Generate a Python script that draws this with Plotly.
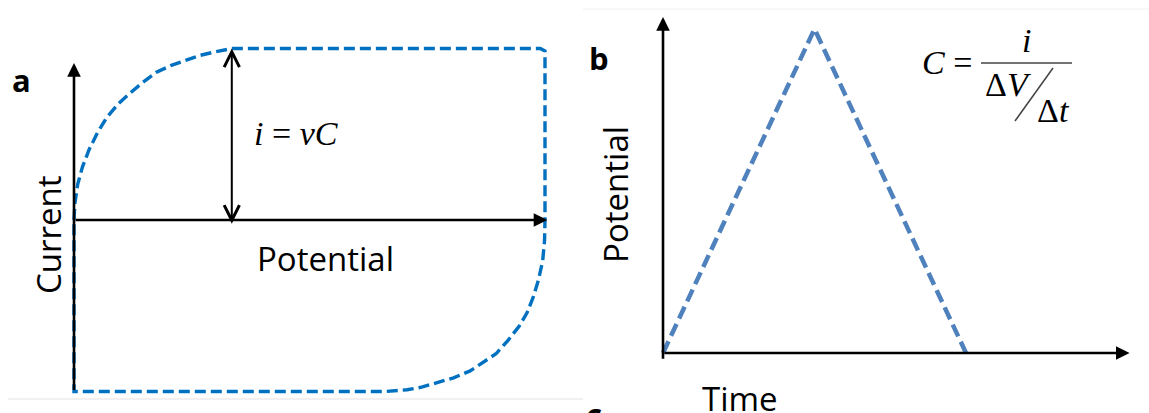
import plotly.graph_objects as go

W, H = 1149, 413

# (a) cyclic voltammogram of an ideal capacitor, normalised units
potential_a = [0.000, 0.002, 0.008, 0.018, 0.032, 0.050, 0.070, 0.095, 0.119, 0.145,
               0.174, 0.205, 0.236, 0.268, 0.299, 0.335, 0.990, 1.000, 1.000, 0.999,
               0.995, 0.986, 0.975, 0.962, 0.945, 0.922, 0.896, 0.870, 0.841, 0.806,
               0.771, 0.738, 0.707, 0.680, 0.660, 0.000, 0.000]
current_a = [0.00, 0.10, 0.21, 0.31, 0.41, 0.51, 0.60, 0.68, 0.74, 0.80,
             0.86, 0.90, 0.93, 0.96, 0.98, 1.00, 1.00, 0.985, 0.00, -0.12,
             -0.24, -0.35, -0.45, -0.54, -0.62, -0.70, -0.78, -0.83, -0.88, -0.92,
             -0.95, -0.975, -0.99, -0.997, -1.00, -1.00, 0.00]
plateau_potential = 0.335   # where the current reaches i = vC
plateau_current = 1.0
axis_a_top = 0.915          # end of the current axis arrow
axis_a_bottom = -1.0
axis_a_right = 1.005        # end of the potential axis arrow

# (b) triangular potential sweep
time_b = [0, 1, 2]
potential_b = [0, 1, 0]
axis_b_top = 1.037
axis_b_right = 3.08
axis_b_bottom = -0.022


def px(x):
    return x / W


def py(y):
    return 1 - y / H


fig = go.Figure()

fig.add_trace(go.Scatter(
    x=potential_a, y=current_a, mode="lines", xaxis="x", yaxis="y",
    line=dict(color="#0070C0", width=3.4, dash="11px,5px"),
    hoverinfo="skip", cliponaxis=False,
))
fig.add_trace(go.Scatter(
    x=time_b, y=potential_b, mode="lines", xaxis="x2", yaxis="y2",
    line=dict(color="#4F81BD", width=4.5, dash="13px,6px"),
    hoverinfo="skip", cliponaxis=False,
))

hidden = dict(visible=False, fixedrange=True)
fig.update_layout(
    width=W, height=H,
    margin=dict(l=0, r=0, t=0, b=0),
    paper_bgcolor="white", plot_bgcolor="rgba(0,0,0,0)",
    showlegend=False,
    xaxis=dict(domain=[0, 580 / W], range=[-74 / 471, (580 - 74) / 471], **hidden),
    yaxis=dict(domain=[0, 1], range=[-(H - 220) / 171.5, 220 / 171.5], **hidden),
    xaxis2=dict(domain=[580 / W, 1], range=[(580 - 663) / 151.5, (W - 663) / 151.5],
                anchor="y2", **hidden),
    yaxis2=dict(domain=[0, 1], range=[-(H - 353) / 324, 353 / 324], anchor="x2", **hidden),
)


def axis_arrow(xr, yr, x0, y0, x1, y1, width=2.6):
    return dict(x=x1, y=y1, ax=x0, ay=y0, xref=xr, yref=yr, axref=xr, ayref=yr,
                text="", showarrow=True, arrowhead=2, arrowsize=1.05,
                arrowwidth=width, arrowcolor="black", standoff=0)


def label(x, y, text, font, xref="paper", yref="paper", xanchor="center", **kw):
    return dict(x=x, y=y, xref=xref, yref=yref, text=text, showarrow=False,
                xanchor=xanchor, yanchor="middle", font=font, **kw)


label_font = dict(family="Open Sans", size=33, color="black")
bold_font = dict(family="Open Sans", size=31, color="black", weight="bold")
math_font = dict(family="Liberation Serif", size=34, color="black")

annotations = [
    # panel a axes
    axis_arrow("x", "y", 0, axis_a_bottom, 0, axis_a_top),
    axis_arrow("x", "y", 0, 0, axis_a_right, 0),
    # i = vC double arrow
    dict(x=plateau_potential, y=plateau_current, ax=plateau_potential, ay=-0.03,
         xref="x", yref="y", axref="x", ayref="y", text="", showarrow=True,
         arrowside="end+start", arrowhead=5, startarrowhead=5,
         arrowsize=1.5, startarrowsize=1.5, arrowwidth=2, arrowcolor="black",
         standoff=0, startstandoff=0),
    label(0.378, 0.507, "<i>i</i>&nbsp;=&nbsp;<i>vC</i>", math_font, "x", "y",
          xanchor="left"),
    label(0.533, -0.222, "Potential", label_font, "x", "y"),
    label(-0.053, -0.087, "Current", label_font, "x", "y", textangle=-90),
    label(px(21), py(80), "a", bold_font),
    # panel b axes
    axis_arrow("x2", "y2", 0, axis_b_bottom, 0, axis_b_top),
    axis_arrow("x2", "y2", 0, 0, axis_b_right, 0),
    label(0.508, -0.139, "Time", label_font, "x2", "y2"),
    label(-0.31, 0.488, "Potential", label_font, "x2", "y2", textangle=-90),
    label(px(599), py(58), "b", bold_font),
    label(px(594), py(414), "c", bold_font),
    # C = i / (dV/dt)
    label(px(920), py(62), "<i>C</i> =", math_font, xanchor="left"),
    label(px(1026), py(40), "<i>i</i>", math_font),
    label(px(983), py(84), "Δ<i>V</i>", math_font, xanchor="left"),
    label(px(1035), py(111), "Δ<i>t</i>", math_font, xanchor="left"),
]
fig.update_layout(annotations=annotations)

fig.update_layout(shapes=[
    # fraction bar and slash of the capacitance formula
    dict(type="line", xref="paper", yref="paper", x0=px(981), y0=py(63), x1=px(1072),
         y1=py(63), line=dict(color="#444444", width=1.5)),
    dict(type="line", xref="paper", yref="paper", x0=px(1015), y0=py(121), x1=px(1053),
         y1=py(68), line=dict(color="#444444", width=1.5)),
    # thin separators
    dict(type="line", xref="paper", yref="paper", x0=px(8), y0=py(399), x1=px(583),
         y1=py(399), line=dict(color="#e2e2e2", width=1)),
    dict(type="line", xref="paper", yref="paper", x0=px(583), y0=py(9), x1=1,
         y1=py(9), line=dict(color="#f0f0f0", width=1)),
])

fig.write_html("out.html")
